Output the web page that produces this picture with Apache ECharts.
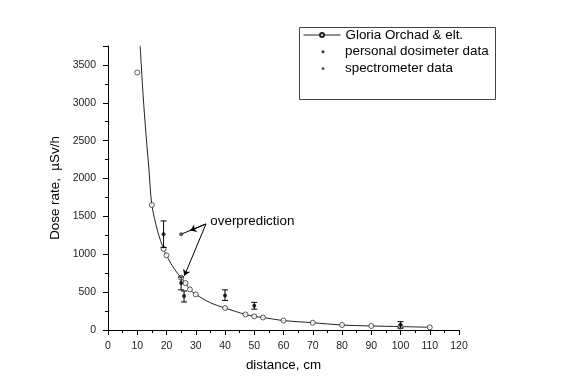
<!DOCTYPE html>
<html>
<head>
<meta charset="utf-8">
<script src="https://cdn.jsdelivr.net/npm/echarts@6/dist/echarts.min.js"></script>
<style>
html,body{margin:0;padding:0;background:#fff;}
#c{width:573px;height:382px;}
</style>
</head>
<body>
<div id="c"></div>
<script>
// ---- data ----
// fitted curve (Gloria Orchad & elt.)
var curveX = [11, 12, 13, 14, 15, 17, 19, 20, 22.5, 25, 26.5, 28, 30, 35, 40, 47, 50, 53, 60, 70, 80, 90, 100, 110];
var curveY = [3750, 3100, 2580, 2120, 1650, 1300, 1070, 985, 815, 690, 620, 535, 470, 360, 290, 205, 180, 165, 125, 96, 66, 53, 45, 36];
// Gloria Orchad & elt. data points (open circles)
var gloriaX = [10, 15, 19, 20, 25, 26.5, 28, 30, 40, 47, 50, 53, 60, 70, 80, 90, 100, 110];
var gloriaY = [3400, 1650, 1070, 985, 690, 620, 535, 470, 290, 205, 180, 165, 125, 96, 66, 53, 45, 36];
// personal dosimeter data with error bars
var persX   = [19, 25, 26, 40, 50, 100];
var persY   = [1265, 620, 450, 455, 320, 70];
var persLo  = [1090, 530, 370, 390, 275, 25];
var persHi  = [1440, 700, 515, 530, 365, 110];
// spectrometer data
var specX = [25];
var specY = [1265];
// annotation
var annoText = 'overprediction';
var annoApex = [33.5, 1400];
var annoTargets = [[25, 1265], [26.1, 715]];
var annoArrowMid = [28.1, 1314];
var xTicks = {min: 0, max: 120, interval: 10};
var yTicks = {min: 0, max: 3750, interval: 500};

function zip(a, b) { return a.map(function (v, i) { return [v, b[i]]; }); }

var chart = echarts.init(document.getElementById('c'), null, {renderer: 'canvas'});
var font = 'Liberation Sans, Arial, sans-serif';
var bigFont = 13.4;
var tickFont = 10.5;
var option = {
  animation: false,
  backgroundColor: '#fff',
  textStyle: {fontFamily: font},
  grid: {left: 108, right: 114, top: 46, bottom: 52},
  graphic: [{
    type: 'rect', left: 297, top: 25,
    shape: {width: 196, height: 72},
    style: {fill: 'none', stroke: '#444', lineWidth: 1}
  }],
  legend: [{
    data: ['Gloria Orchad & elt.'],
    left: 303, top: 28.5, padding: 0,
    itemWidth: 37, itemHeight: 5,
    lineStyle: {width: 1},
    textStyle: {fontSize: bigFont, color: '#000', fontFamily: font}
  }, {
    data: ['personal dosimeter data'],
    left: 321.5, top: 45.3, padding: 0,
    icon: 'circle', itemWidth: 3, itemHeight: 3,
    textStyle: {fontSize: bigFont, color: '#000', fontFamily: font, padding: [0, 0, 0, 15.5]}
  }, {
    data: ['spectrometer data'],
    left: 321.5, top: 62, padding: 0,
    icon: 'circle', itemWidth: 3, itemHeight: 3,
    textStyle: {fontSize: bigFont, color: '#000', fontFamily: font, padding: [0, 0, 0, 15.5]}
  }],
  xAxis: {
    type: 'value', min: xTicks.min, max: xTicks.max, interval: xTicks.interval,
    name: 'distance, cm', nameLocation: 'middle', nameGap: 29,
    nameTextStyle: {fontSize: bigFont, color: '#000', fontFamily: font},
    axisLine: {show: true, onZero: false, lineStyle: {color: '#000', width: 1}},
    axisTick: {show: true, inside: false, length: 5, lineStyle: {color: '#000'}},
    minorTick: {show: true, splitNumber: 2, length: 3, lineStyle: {color: '#000'}},
    splitLine: {show: false},
    axisLabel: {fontSize: tickFont, color: '#222', margin: 11, fontFamily: font}
  },
  yAxis: {
    type: 'value', min: yTicks.min, max: yTicks.max, interval: yTicks.interval,
    name: 'Dose rate,  \u00b5Sv/h', nameLocation: 'middle', nameGap: 42,
    nameTextStyle: {fontSize: bigFont, color: '#000', fontFamily: font},
    axisLine: {show: true, onZero: false, lineStyle: {color: '#000', width: 1}},
    axisTick: {show: true, inside: false, length: 5, lineStyle: {color: '#000'}},
    minorTick: {show: true, splitNumber: 2, length: 3, lineStyle: {color: '#000'}},
    splitLine: {show: false},
    axisLabel: {fontSize: tickFont, color: '#222', margin: 12, showMaxLabel: false, fontFamily: font,
      formatter: function (v) { return String(v); }}
  },
  series: [{
    name: 'Gloria Orchad & elt.',
    type: 'line',
    data: zip(curveX, curveY),
    smooth: 0.3,
    symbol: 'emptyCircle',
    showSymbol: false,
    lineStyle: {color: '#222', width: 1},
    itemStyle: {color: '#222'},
    z: 2
  }, {
    name: 'gloria-points',
    type: 'scatter',
    data: zip(gloriaX, gloriaY),
    symbol: 'circle',
    symbolSize: 5,
    itemStyle: {color: '#fff', borderColor: '#333', borderWidth: 1},
    z: 3
  }, {
    name: 'error-bars',
    type: 'custom',
    data: persX.map(function (x, i) { return [x, persLo[i], persHi[i]]; }),
    encode: {x: 0, y: [1, 2]},
    renderItem: function (params, api) {
      var x = api.value(0);
      var lo = api.coord([x, api.value(1)]);
      var hi = api.coord([x, api.value(2)]);
      var w = 3;
      var st = {stroke: '#000', lineWidth: 1};
      return {type: 'group', children: [
        {type: 'line', shape: {x1: lo[0], y1: lo[1], x2: hi[0], y2: hi[1]}, style: st},
        {type: 'line', shape: {x1: lo[0] - w, y1: lo[1], x2: lo[0] + w, y2: lo[1]}, style: st},
        {type: 'line', shape: {x1: hi[0] - w, y1: hi[1], x2: hi[0] + w, y2: hi[1]}, style: st}
      ]};
    },
    z: 4
  }, {
    name: 'personal dosimeter data',
    type: 'scatter',
    data: zip(persX, persY),
    symbol: 'circle',
    symbolSize: 4,
    itemStyle: {color: '#000'},
    z: 5
  }, {
    name: 'spectrometer data',
    type: 'scatter',
    data: zip(specX, specY),
    symbol: 'circle',
    symbolSize: 4,
    itemStyle: {color: '#333'},
    z: 5
  }, {
    name: 'annotation',
    type: 'line',
    data: [],
    markLine: {
      silent: true,
      symbol: ['none', 'none'],
      label: {show: false},
      lineStyle: {color: '#000', width: 1, type: 'solid'},
      data: [
        [{coord: annoApex}, {coord: annoTargets[0]}],
        [{coord: annoApex, symbol: 'none'}, {coord: annoArrowMid, symbol: 'arrow', symbolSize: 6}],
        [{coord: annoApex, symbol: 'none'}, {coord: annoTargets[1], symbol: 'arrow', symbolSize: 6}]
      ]
    },
    markPoint: {
      silent: true,
      symbol: 'circle', symbolSize: 1,
      itemStyle: {color: 'rgba(0,0,0,0)'},
      label: {show: true, position: 'right', distance: 0, formatter: annoText, fontSize: bigFont, color: '#000', fontFamily: font},
      data: [{coord: [34.8, 1440]}]
    },
    z: 6
  }]
};
chart.setOption(option);
</script>
</body>
</html>
